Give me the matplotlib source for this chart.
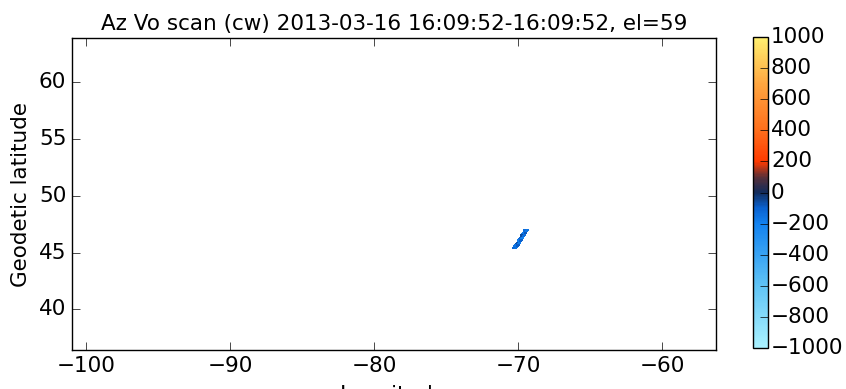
import numpy as np
import matplotlib
matplotlib.use("Agg")
import matplotlib.pyplot as plt
from matplotlib.colors import LinearSegmentedColormap

plt.style.use("classic")

# scan geometry: gate edge positions for the two beams of this scan
edge_lat = [45.30, 45.52, 45.74, 45.96, 46.18, 46.40, 46.62, 46.84, 47.06]
beam_lon_left = [-70.46, -70.35, -70.24, -70.13, -70.02, -69.91, -69.80, -69.69, -69.58]
beam_lon_mid = [-70.30, -70.19, -70.08, -69.97, -69.86, -69.75, -69.64, -69.53, -69.42]
beam_lon_right = [-70.14, -70.03, -69.92, -69.81, -69.70, -69.59, -69.48, -69.37, -69.26]

# line-of-sight velocity per gate (m/s), two beams
vel_beam1 = [-120, -160, -70, -180, -110, -60, -170, -130]
vel_beam2 = [-150, -90, -180, -100, -200, -140, -80, -160]

vmin, vmax = -1000, 1000
title = "Az Vo scan (cw) 2013-03-16 16:09:52-16:09:52, el=59"

cmap = LinearSegmentedColormap.from_list("vel", [
    (0.00, "#aaf2ff"),
    (0.20, "#60c4f6"),
    (0.40, "#1282f0"),
    (0.45, "#0a62d0"),
    (0.50, "#122c5c"),
    (0.55, "#5a3038"),
    (0.60, "#ff3a00"),
    (0.70, "#ff6e1c"),
    (0.85, "#ffa640"),
    (1.00, "#fff070"),
])

lon = np.array([beam_lon_left, beam_lon_mid, beam_lon_right]).T
lat = np.array([edge_lat, edge_lat, edge_lat]).T
vel = np.array([vel_beam1, vel_beam2]).T

fs = 15.5
fig = plt.figure(figsize=(8.46, 3.89), dpi=100, facecolor="white")
ax = fig.add_axes([0.085, 0.100, 0.761, 0.802])
cax = fig.add_axes([0.890, 0.105, 0.018, 0.800])

mesh = ax.pcolormesh(lon, lat, vel, cmap=cmap, vmin=vmin, vmax=vmax,
                     shading="flat", edgecolors="none")

ax.set_xlim(-101.0, -56.3)
ax.set_ylim(36.4, 63.9)
ax.set_xticks([-100, -90, -80, -70, -60])
ax.set_yticks([40, 45, 50, 55, 60])
ax.tick_params(labelsize=fs, length=6)
ax.set_xlabel("Longitude", fontsize=fs, labelpad=7)
ax.set_ylabel("Geodetic latitude", fontsize=fs, labelpad=6)
ax.set_title(title, fontsize=fs, pad=6)

cb = fig.colorbar(mesh, cax=cax)
cb.set_ticks(np.arange(-1000, 1001, 200))
cb.ax.tick_params(labelsize=fs, length=6, pad=2)

fig.savefig("out.png", dpi=100, facecolor="white")
